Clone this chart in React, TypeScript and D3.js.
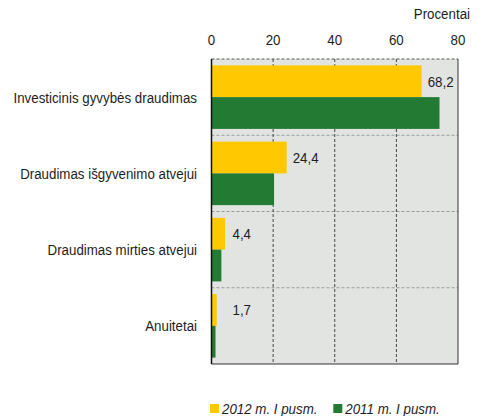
import React from 'react';
import * as d3 from 'd3';

const categories = [
  'Investicinis gyvybės draudimas',
  'Draudimas išgyvenimo atvejui',
  'Draudimas mirties atvejui',
  'Anuitetai',
];
const series = ['2012 m. I pusm.', '2011 m. I pusm.'];
const values2012 = [68.2, 24.4, 4.4, 1.7];
const values2011 = [74.0, 20.3, 3.2, 1.3];
const labels2012 = ['68,2', '24,4', '4,4', '1,7'];
const xTicks = [0, 20, 40, 60, 80];
const colors = ['#ffc800', '#237a32'];

const W = 483;
const H = 416;
const margin = { top: 59, right: 25, bottom: 52, left: 211.5 };
const font = '"Liberation Sans", Arial, sans-serif';

// narrow look: normal sans squeezed horizontally
function T({ x, y, anchor = 'start', italic = false, children }: any) {
  return (
    <text
      transform={`translate(${x},${y}) scale(0.86,1)`}
      dy="0.35em"
      fontSize={15.5}
      textAnchor={anchor}
      fontStyle={italic ? 'italic' : 'normal'}
      fill="#1e1e1e"
    >
      {children}
    </text>
  );
}

export default function App() {
  const innerW = W - margin.left - margin.right;
  const innerH = H - margin.top - margin.bottom;

  const x = d3.scaleLinear().domain([0, 80]).range([0, innerW]);
  const y = d3.scaleBand().domain(categories).range([0, innerH]).padding(0);
  const ySub = d3.scaleBand().domain(series).range([0, y.bandwidth()]).paddingInner(0).paddingOuter(0.2);

  const rows = categories.map((c, i) => ({ c, v: [values2012[i], values2011[i]], label: labels2012[i] }));

  return (
    <svg width={W} height={H} style={{ position: 'absolute', left: 0, top: 0, background: '#fff' }} fontFamily={font}>
      <T x={470} y={14} anchor="end">Procentai</T>
      {xTicks.map(t => (
        <T key={t} x={margin.left + x(t)} y={40} anchor="middle">{t}</T>
      ))}
      <g transform={`translate(${margin.left},${margin.top})`}>
        <rect x={0} y={0} width={innerW} height={innerH} fill="#e1e4e1" />
        {categories.slice(1).map(c => (
          <line key={c} x1={0} x2={innerW} y1={y(c)} y2={y(c)} stroke="#9a9a9a" strokeDasharray="3,2" />
        ))}
        {xTicks.slice(1, -1).map(t => (
          <line key={t} x1={x(t)} x2={x(t)} y1={0} y2={innerH} stroke="#444" strokeDasharray="3,2" />
        ))}
        {rows.map(r => (
          <g key={r.c} transform={`translate(0,${y(r.c)})`}>
            {series.map((s, j) => (
              <rect key={s} x={0} y={ySub(s)} width={x(r.v[j])} height={ySub.bandwidth()} fill={colors[j]} />
            ))}
            <T x={Math.max(x(r.v[0]) + 6, 21)} y={(ySub(series[0]) as number) + ySub.bandwidth() / 2}>
              {r.label}
            </T>
            <T x={-14.5} y={y.bandwidth() / 2} anchor="end">{r.c}</T>
          </g>
        ))}
        <line x1={0} x2={innerW} y1={0} y2={0} stroke="#555" strokeDasharray="3,2" />
        <line x1={innerW} x2={innerW} y1={0} y2={innerH} stroke="#333" />
        <line x1={0} x2={innerW} y1={innerH} y2={innerH} stroke="#333" />
        <line x1={0} x2={0} y1={0} y2={innerH} stroke="#111" strokeWidth={1.5} />
      </g>
      {series.map((s, j) => (
        <g key={s} transform={`translate(${210 + j * 123.3},404)`}>
          <rect x={0} y={0} width={9} height={9} fill={colors[j]} />
          <T x={12} y={4.5} italic>{s}</T>
        </g>
      ))}
    </svg>
  );
}
